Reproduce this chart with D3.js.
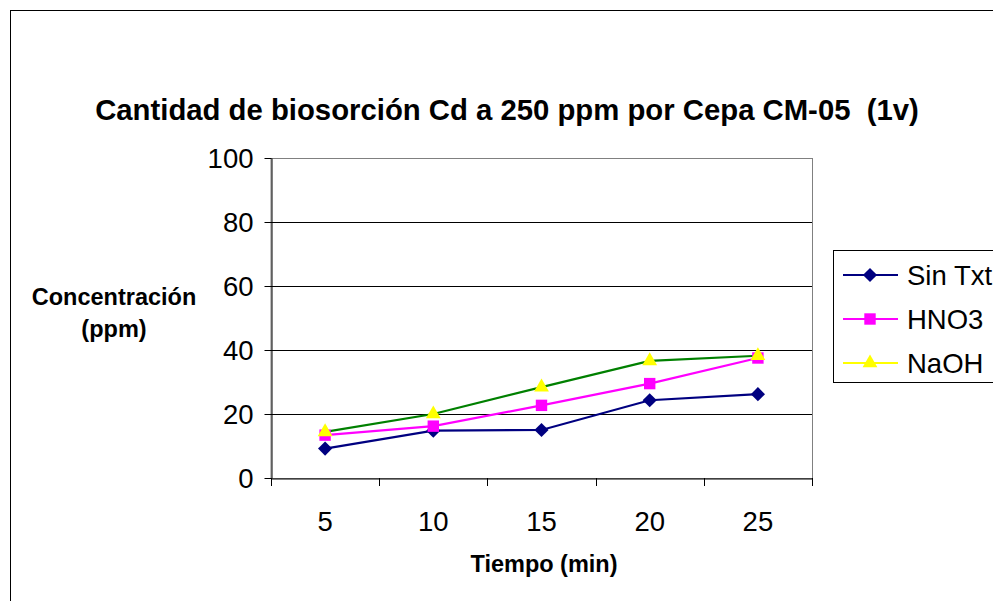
<!DOCTYPE html>
<html><head><meta charset="utf-8">
<script src="https://cdn.jsdelivr.net/npm/d3@7"></script>
<style>html,body{margin:0;padding:0;background:#fff;overflow:hidden}</style>
</head><body><svg id="c" width="993" height="601"></svg>
<script>
const categories = ["5","10","15","20","25"];
const sinTxt = [9.2, 14.8, 15.0, 24.3, 26.2];
const hno3 = [13.4, 16.2, 22.7, 29.5, 37.5];
const naoh = [14.4, 20.0, 28.4, 36.6, 38.2];
const yTicks = [0,20,40,60,80,100];
const seriesNames = ["Sin Txt","HNO3","NaOH"];

const svg = d3.select("#c");
const F = "Liberation Sans, Arial, sans-serif";
const L=271, R=812, T=158, B=478;
const x = d3.scaleBand().domain(categories).range([L,R]).paddingInner(0).paddingOuter(0);
const y = d3.scaleLinear().domain([0,100]).range([B,T]);

// outer border
svg.append("rect").attr("x",10.5).attr("y",10.5).attr("width",1100).attr("height",700)
  .attr("fill","none").attr("stroke","#000").attr("stroke-width",1);

// title
svg.append("text").attr("x",507).attr("y",120).attr("text-anchor","middle")
  .attr("font-family",F).attr("font-weight","bold").attr("font-size",29.3)
  .attr("xml:space","preserve")
  .text("Cantidad de biosorción Cd a 250 ppm por Cepa CM-05  (1v)");

// plot frame (top/right gray)
svg.append("rect").attr("x",L).attr("y",T+0.5).attr("width",R-L+0.5).attr("height",B-T)
  .attr("fill","none").attr("stroke","#808080").attr("stroke-width",1);

// gridlines
svg.append("g").selectAll("line").data(yTicks.filter(d=>d>0 && d<100)).join("line")
  .attr("x1",L).attr("x2",R).attr("y1",d=>Math.round(y(d))+0.5).attr("y2",d=>Math.round(y(d))+0.5)
  .attr("stroke","#000").attr("stroke-width",1);

// y axis
const ya = svg.append("g").attr("transform",`translate(${L+0.5},0)`)
  .call(d3.axisLeft(y).tickValues(yTicks).tickSize(7).tickPadding(11).tickSizeOuter(0));
ya.select(".domain").attr("stroke","#000");
ya.selectAll(".tick line").attr("stroke","#000");
ya.selectAll("text").attr("font-family",F).attr("font-size",27.5).attr("fill","#000").attr("dy","0.36em");

// x axis
const xa = svg.append("g").attr("transform",`translate(0,${B+0.5})`)
  .call(d3.axisBottom(x).tickSize(0).tickSizeOuter(0).tickPadding(0));
xa.select(".domain").attr("stroke","#000");
xa.selectAll("text").attr("font-family",F).attr("font-size",27.5).attr("fill","#000").attr("y",52).attr("dy",0);
const bounds = categories.map(c=>x(c)).concat([R]);
svg.append("g").selectAll("line").data(bounds).join("line")
  .attr("x1",d=>Math.round(d)+0.5).attr("x2",d=>Math.round(d)+0.5).attr("y1",B).attr("y2",B+8)
  .attr("stroke","#000");

// axis titles
svg.append("text").attr("x",544).attr("y",572).attr("text-anchor","middle")
  .attr("font-family",F).attr("font-weight","bold").attr("font-size",23.5).text("Tiempo (min)");
const yt = svg.append("text").attr("text-anchor","middle")
  .attr("font-family",F).attr("font-weight","bold").attr("font-size",23.5);
yt.append("tspan").attr("x",114).attr("y",305).text("Concentración");
yt.append("tspan").attr("x",114).attr("y",337).text("(ppm)");

const cx = c => x(c) + x.bandwidth()/2;
const series = [
  {name:seriesNames[0], vals:sinTxt, line:"#000080", legLine:"#000080", fill:"#000080", sym:d3.symbolSquare, size:100, rot:45},
  {name:seriesNames[1], vals:hno3, line:"#FF00FF", legLine:"#FF00FF", fill:"#FF00FF", sym:d3.symbolSquare, size:130, rot:0},
  {name:seriesNames[2], vals:naoh, line:"#008000", legLine:"#FFFF00", fill:"#FFFF00", sym:d3.symbolTriangle, size:95, rot:0},
];
const lineGen = d3.line().x((d,i)=>cx(categories[i])).y(d=>y(d));
series.forEach(s=>{
  svg.append("path").attr("d",lineGen(s.vals)).attr("fill","none").attr("stroke",s.line).attr("stroke-width",2.2);
});
series.forEach(s=>{
  svg.append("g").selectAll("path").data(s.vals).join("path")
    .attr("d",d3.symbol().type(s.sym).size(s.size))
    .attr("transform",(d,i)=>`translate(${cx(categories[i])},${y(d)}) rotate(${s.rot})`)
    .attr("fill",s.fill);
});

// legend
svg.append("rect").attr("x",833.5).attr("y",250.5).attr("width",300).attr("height",132)
  .attr("fill","#fff").attr("stroke","#000").attr("stroke-width",1);
const ly = [275,319,363];
series.forEach((s,i)=>{
  const g = svg.append("g");
  g.append("line").attr("x1",843).attr("x2",898).attr("y1",ly[i]).attr("y2",ly[i]).attr("stroke",s.legLine).attr("stroke-width",2.2);
  g.append("path").attr("d",d3.symbol().type(s.sym).size(s.size)).attr("transform",`translate(870,${ly[i]}) rotate(${s.rot})`).attr("fill",s.fill);
  g.append("text").attr("x",907).attr("y",ly[i]).attr("dy","0.36em").attr("font-family",F).attr("font-size",27.5).text(s.name);
});
</script></body></html>
